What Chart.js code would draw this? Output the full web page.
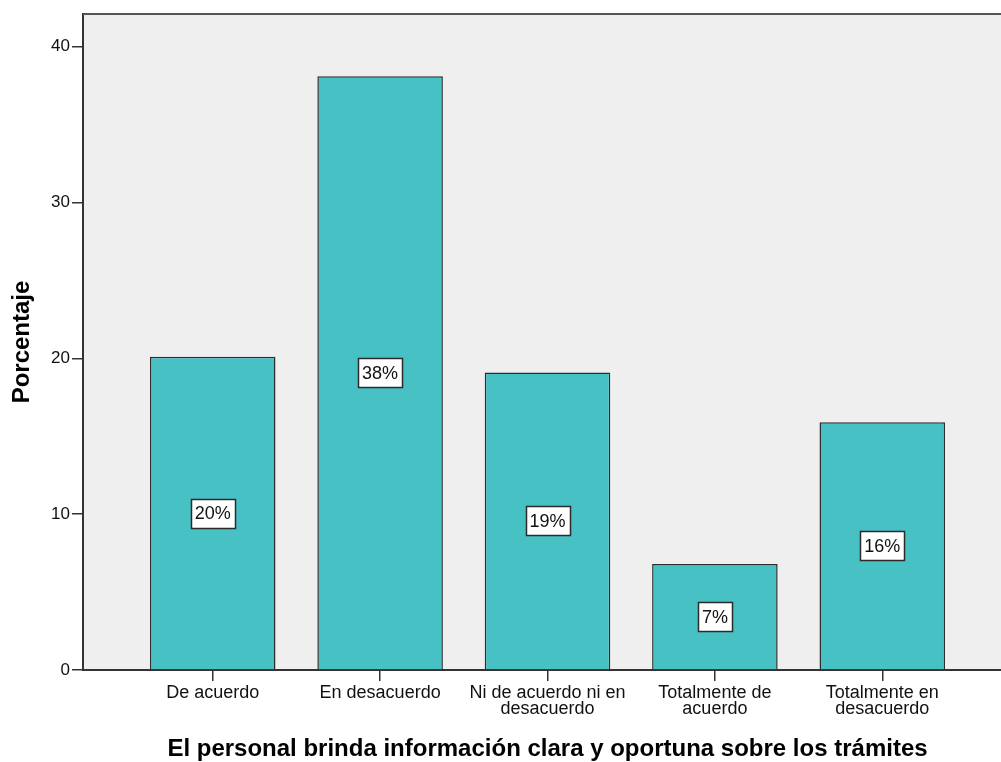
<!DOCTYPE html>
<html>
<head>
<meta charset="utf-8">
<script src="https://cdn.jsdelivr.net/npm/chart.js@4.4.1/dist/chart.umd.min.js"></script>
<style>
    html, body { margin: 0; padding: 0; background: #fff; overflow: hidden; }
    #wrap { position: relative; width: 1013px; height: 762px; }
</style>
</head>
<body>
<div id="wrap"><canvas id="chart" width="1013" height="762"></canvas></div>
<script>
const categories = [
    ['De acuerdo'],
    ['En desacuerdo'],
    ['Ni de acuerdo ni en', 'desacuerdo'],
    ['Totalmente de', 'acuerdo'],
    ['Totalmente en', 'desacuerdo']
];
const percentages = [20.1, 38.1, 19.1, 6.8, 15.9];
const percentLabels = ['20%', '38%', '19%', '7%', '16%'];
const yTicks = [0, 10, 20, 30, 40];

const FONT = "'Liberation Sans', Arial, sans-serif";
const AXIS_COLOR = '#333333';

// grey plot background + top frame line
const plotFrame = {
    id: 'plotFrame',
    beforeDraw(chart) {
        const { ctx, chartArea: a } = chart;
        ctx.save();
        ctx.fillStyle = '#efefef';
        ctx.fillRect(a.left, a.top, a.right - a.left, a.bottom - a.top);
        ctx.restore();
    },
    afterDraw(chart) {
        const { ctx, chartArea: a } = chart;
        ctx.save();
        ctx.strokeStyle = '#555555';
        ctx.lineWidth = 2;
        ctx.beginPath();
        ctx.moveTo(a.left, a.top);
        ctx.lineTo(a.right, a.top);
        ctx.stroke();
        ctx.restore();
    }
};

// boxed percentage labels in the middle of each bar
const boxLabels = {
    id: 'boxLabels',
    afterDatasetsDraw(chart) {
        const ctx = chart.ctx;
        const meta = chart.getDatasetMeta(0);
        ctx.save();
        ctx.font = '18px ' + FONT;
        ctx.textAlign = 'center';
        ctx.textBaseline = 'middle';
        meta.data.forEach((bar, i) => {
            const text = percentLabels[i];
            const cy = (bar.y + bar.base) / 2;
            const w = Math.round(ctx.measureText(text).width) + 8;
            const h = 29;
            const x0 = Math.round(bar.x - w / 2) + 0.5;
            const y0 = Math.round(cy - h / 2) + 0.5;
            ctx.fillStyle = '#ffffff';
            ctx.fillRect(x0, y0, w, h);
            ctx.strokeStyle = '#2b2b2b';
            ctx.lineWidth = 1.5;
            ctx.strokeRect(x0, y0, w, h);
            ctx.fillStyle = '#111111';
            ctx.fillText(text, bar.x, cy + 1);
        });
        ctx.restore();
    }
};

new Chart(document.getElementById('chart'), {
    type: 'bar',
    data: {
        datasets: [{
            data: percentages.map((v, i) => ({ x: i + 1, y: v })),
            backgroundColor: '#48c1c4',
            borderColor: '#2d2d2d',
            borderWidth: 1.5,
            categoryPercentage: 0.75,
            barPercentage: 1
        }]
    },
    options: {
        responsive: false,
        maintainAspectRatio: false,
        animation: false,
        layout: { padding: { top: 14, right: 1, left: 0, bottom: 0 } },
        plugins: {
            legend: { display: false },
            tooltip: { enabled: false }
        },
        scales: {
            x: {
                type: 'linear',
                min: 0.225,
                max: 5.775,
                offset: false,
                afterBuildTicks: (scale) => {
                    scale.ticks = categories.map((c, i) => ({ value: i + 1 }));
                },
                afterFit: (scale) => { scale.height = 92; },
                ticks: {
                    autoSkip: false,
                    maxRotation: 0,
                    padding: 4,
                    color: '#111111',
                    font: { family: FONT, size: 18, lineHeight: 0.9 },
                    callback: (value) => categories[value - 1]
                },
                grid: {
                    offset: false,
                    drawOnChartArea: false,
                    drawTicks: true,
                    tickLength: 11,
                    color: AXIS_COLOR,
                    lineWidth: 1.5
                },
                border: { display: true, color: AXIS_COLOR, width: 2 },
                title: {
                    display: true,
                    text: 'El personal brinda información clara y oportuna sobre los trámites',
                    color: '#000000',
                    font: { family: FONT, size: 24, weight: 'bold', lineHeight: 1 },
                    padding: { top: 0, bottom: 1 }
                }
            },
            y: {
                min: 0,
                max: 42.1,
                afterBuildTicks: (scale) => {
                    scale.ticks = yTicks.map(v => ({ value: v }));
                },
                afterFit: (scale) => { scale.width = 83; },
                ticks: {
                    padding: 2,
                    color: '#111111',
                    font: { family: FONT, size: 17 }
                },
                grid: {
                    drawOnChartArea: false,
                    drawTicks: true,
                    tickLength: 11,
                    color: AXIS_COLOR,
                    lineWidth: 1.5
                },
                border: { display: true, color: AXIS_COLOR, width: 2 },
                title: {
                    display: true,
                    text: 'Porcentaje',
                    color: '#000000',
                    font: { family: FONT, size: 24, weight: 'bold', lineHeight: 1 },
                    padding: { top: 10, bottom: 0 }
                }
            }
        }
    },
    plugins: [plotFrame, boxLabels]
});
</script>
</body>
</html>
